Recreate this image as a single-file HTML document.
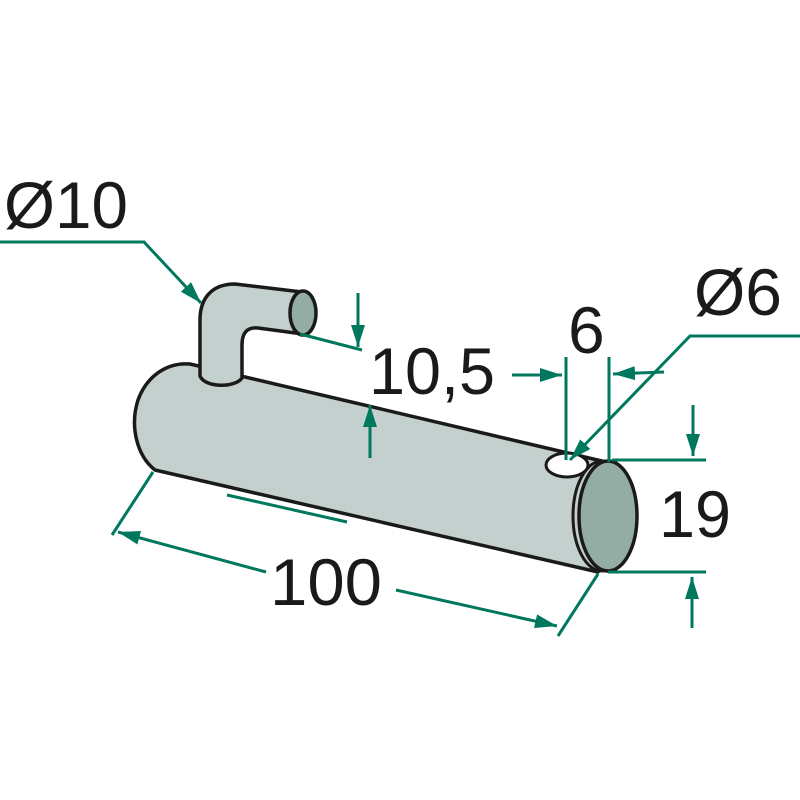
<!DOCTYPE html>
<html><head><meta charset="utf-8"><style>
html,body{margin:0;padding:0;background:#fff;width:800px;height:800px;overflow:hidden}
text{font-family:"Liberation Sans",sans-serif;fill:#1a1a1a}
</style></head><body>
<svg width="800" height="800" viewBox="0 0 800 800" xmlns="http://www.w3.org/2000/svg">
<defs>
<marker id="a" viewBox="-22 -8 22 16" refX="0" refY="0" markerWidth="22" markerHeight="16" orient="auto-start-reverse" markerUnits="userSpaceOnUse">
<path d="M-22,-7 L0,0 L-22,7 z" fill="#00785d"/>
</marker>
</defs>
<path d="M190,364 L606,462 L598,572 L155,470 C136,455 130,425 138,400 C146,378 165,362 190,364 Z" fill="#c3d0cd" stroke="#1a1a1a" stroke-width="3.5" stroke-linejoin="round"/>
<path d="M200,376 L200,320 C200,298 212,284 235,284 L302,292 L303,334 L258,328 C246,327 242,334 242,345 L242,378 C235,388 205,388 200,376 Z" fill="#c3d0cd" stroke="#1a1a1a" stroke-width="3.5" stroke-linejoin="round"/>
<ellipse cx="303" cy="313" rx="13" ry="22" fill="#93aca4" stroke="#1a1a1a" stroke-width="3.5"/>
<ellipse cx="602" cy="516" rx="29" ry="55" fill="#c3d0cd" stroke="#1a1a1a" stroke-width="3"/>
<ellipse cx="608" cy="516" rx="29" ry="55" fill="#93aca4" stroke="#1a1a1a" stroke-width="3.5"/>
<ellipse cx="567" cy="465" rx="21" ry="12" fill="#fff" stroke="#1a1a1a" stroke-width="3"/>
<g stroke="#00785d" stroke-width="3" fill="none">
<polyline points="0,242 144,242 201,303" marker-end="url(#a)"/>
<line x1="300" y1="334" x2="362" y2="350"/>
<line x1="358" y1="293" x2="358" y2="347" marker-end="url(#a)"/>
<line x1="370" y1="458" x2="370" y2="405" marker-end="url(#a)"/>
<line x1="566" y1="357" x2="566" y2="460"/>
<line x1="609" y1="357" x2="609" y2="462"/>
<line x1="512" y1="375" x2="562" y2="375" marker-end="url(#a)"/>
<line x1="664" y1="372" x2="613" y2="374" marker-end="url(#a)"/>
<polyline points="800,336 690,336 570,460" marker-end="url(#a)"/>
<line x1="612" y1="460" x2="706" y2="460"/>
<line x1="608" y1="572" x2="706" y2="572"/>
<line x1="693" y1="405" x2="693" y2="456" marker-end="url(#a)"/>
<line x1="692" y1="628" x2="692" y2="577" marker-end="url(#a)"/>
<line x1="153" y1="472" x2="112" y2="535"/>
<line x1="598" y1="574" x2="558" y2="636"/>
<line x1="266" y1="572" x2="118" y2="532" marker-end="url(#a)"/>
<line x1="396" y1="590" x2="557" y2="626" marker-end="url(#a)"/>
<line x1="227" y1="495" x2="347" y2="522"/>
</g>
<text x="4" y="228" font-size="66" textLength="124" lengthAdjust="spacingAndGlyphs">Ø10</text>
<text x="369" y="394" font-size="66" textLength="126" lengthAdjust="spacingAndGlyphs">10,5</text>
<text x="568" y="353" font-size="66">6</text>
<text x="694" y="315" font-size="66" textLength="88" lengthAdjust="spacingAndGlyphs">Ø6</text>
<text x="659" y="537" font-size="66" textLength="72" lengthAdjust="spacingAndGlyphs">19</text>
<text x="270" y="605" font-size="66" textLength="112" lengthAdjust="spacingAndGlyphs">100</text>
</svg>
</body></html>
